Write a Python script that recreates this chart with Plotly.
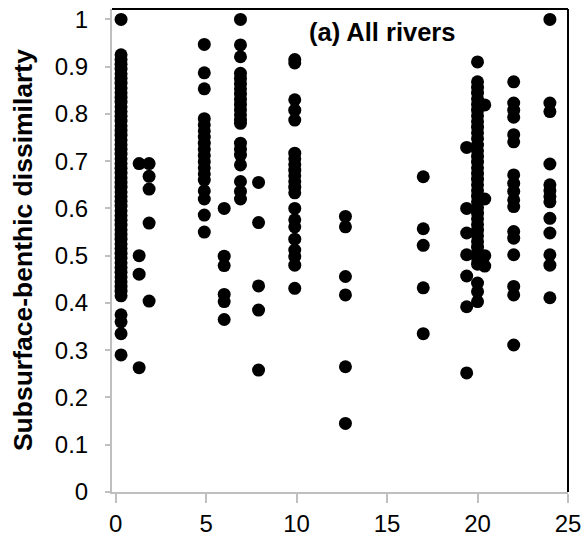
import plotly.graph_objects as go

# Distance position of each sampled river group (x axis)
group_x = [0.3, 1.3, 1.85, 4.9, 6.0, 6.9, 7.9, 9.9, 12.7, 17.0, 19.4, 20.0, 20.4, 22.0, 24.0]

# Subsurface-benthic dissimilarity values for each group
g_0_3 = [1.0,
         0.925, 0.915, 0.905, 0.895, 0.885, 0.875, 0.865, 0.855, 0.845, 0.835,
         0.825, 0.815, 0.805, 0.795, 0.785, 0.775, 0.765, 0.755, 0.745, 0.735,
         0.725, 0.715, 0.705, 0.695, 0.685, 0.675, 0.665, 0.655, 0.645, 0.635,
         0.625, 0.615, 0.605, 0.595, 0.585, 0.575, 0.565, 0.555, 0.545, 0.535,
         0.525, 0.515, 0.505, 0.495, 0.485, 0.475, 0.465, 0.455, 0.445, 0.435,
         0.425, 0.415,
         0.375, 0.36, 0.335, 0.29]
g_1_3 = [0.695, 0.50, 0.461, 0.263]
g_1_85 = [0.695, 0.668, 0.641, 0.569, 0.404]
g_4_9 = [0.947, 0.887, 0.853, 0.79, 0.777, 0.764, 0.751, 0.738, 0.725, 0.712,
         0.699, 0.686, 0.673, 0.66, 0.637, 0.62, 0.586, 0.55]
g_6_0 = [0.60, 0.499, 0.479, 0.418, 0.403, 0.365]
g_6_9 = [1.0, 0.946, 0.921, 0.886, 0.875, 0.864, 0.853, 0.842, 0.831, 0.82,
         0.809, 0.798, 0.787, 0.78, 0.738, 0.725, 0.713, 0.692, 0.657, 0.636, 0.62]
g_7_9 = [0.655, 0.57, 0.436, 0.385, 0.258]
g_9_9 = [0.915, 0.908, 0.83, 0.808, 0.787, 0.717, 0.705, 0.693, 0.681, 0.669,
         0.657, 0.645, 0.633, 0.60, 0.576, 0.561, 0.535, 0.512, 0.498, 0.48, 0.431]
g_12_7 = [0.583, 0.561, 0.456, 0.417, 0.265, 0.145]
g_17_0 = [0.667, 0.557, 0.522, 0.432, 0.335]
g_19_4 = [0.729, 0.60, 0.548, 0.502, 0.457, 0.392, 0.252]
g_20_0 = [0.91,
          0.868, 0.856, 0.844, 0.832, 0.82, 0.808, 0.796, 0.784, 0.772, 0.76, 0.748,
          0.734, 0.722, 0.71, 0.698, 0.686, 0.674, 0.662, 0.65, 0.638, 0.626,
          0.614, 0.602, 0.59, 0.578, 0.566, 0.554, 0.542, 0.53, 0.518, 0.506,
          0.494, 0.482, 0.442, 0.424, 0.403]
g_20_4 = [0.819, 0.62, 0.50, 0.478]
g_22_0 = [0.868, 0.823, 0.808, 0.793, 0.756, 0.741, 0.671, 0.653, 0.636, 0.618,
          0.604, 0.551, 0.537, 0.502, 0.435, 0.417, 0.311]
g_24_0 = [1.0, 0.823, 0.805, 0.694, 0.65, 0.638, 0.625, 0.614, 0.579, 0.548,
          0.502, 0.48, 0.411]

groups = [g_0_3, g_1_3, g_1_85, g_4_9, g_6_0, g_6_9, g_7_9, g_9_9, g_12_7,
          g_17_0, g_19_4, g_20_0, g_20_4, g_22_0, g_24_0]

x_ticks = [0, 5, 10, 15, 20, 25]
y_ticks = [0, 0.1, 0.2, 0.3, 0.4, 0.5, 0.6, 0.7, 0.8, 0.9, 1]
y_tick_text = ["0", "0.1", "0.2", "0.3", "0.4", "0.5", "0.6", "0.7", "0.8", "0.9", "1"]

xs, ys = [], []
for gx, vals in zip(group_x, groups):
    xs.extend([gx] * len(vals))
    ys.extend(vals)

FONT = "Liberation Sans, Arial, sans-serif"
AXIS_GREY = "#bfbfbf"
TICK_SIZE = 24
LABEL_SIZE = 25.5

fig = go.Figure()
fig.add_trace(go.Scatter(
    x=xs, y=ys, mode="markers",
    marker=dict(color="black", size=13, line=dict(width=0)),
    showlegend=False, cliponaxis=False,
))

fig.update_layout(
    width=584, height=539,
    margin=dict(l=112, r=16, t=9, b=47),
    paper_bgcolor="white", plot_bgcolor="white",
    font=dict(family=FONT, size=TICK_SIZE, color="black"),
    xaxis=dict(
        range=[-0.2, 25], tickvals=x_ticks, ticktext=[str(v) for v in x_ticks],
        showgrid=False, zeroline=False, automargin=False,
        showline=True, linecolor=AXIS_GREY, linewidth=2,
        ticks="outside", ticklen=9, tickwidth=2, tickcolor=AXIS_GREY,
        tickfont=dict(family=FONT, size=TICK_SIZE, color="black"),
        ticklabelstandoff=0,
    ),
    yaxis=dict(
        range=[0, 1.022], tickvals=y_ticks, ticktext=y_tick_text,
        showgrid=False, zeroline=False, automargin=False,
        showline=True, linecolor=AXIS_GREY, linewidth=2,
        ticks="outside", ticklen=5, tickwidth=2, tickcolor=AXIS_GREY,
        tickfont=dict(family=FONT, size=TICK_SIZE, color="black"),
        ticklabelstandoff=12,
    ),
)

# Top and right frame edges in black
fig.add_shape(type="line", xref="paper", yref="paper", x0=0, x1=1, y0=1, y1=1,
              line=dict(color="black", width=2))
fig.add_shape(type="line", xref="paper", yref="paper", x0=1, x1=1, y0=0, y1=1,
              line=dict(color="black", width=2))

fig.add_annotation(
    text="<b>(a) All rivers</b>", xref="paper", yref="paper",
    x=0.593, y=0.952, showarrow=False, xanchor="center", yanchor="middle",
    font=dict(family=FONT, size=LABEL_SIZE, color="black"),
)
fig.add_annotation(
    text="<b>Subsurface-benthic dissimilarty</b>", xref="paper", yref="paper",
    x=-0.196, y=0.5, textangle=-90, showarrow=False,
    xanchor="center", yanchor="middle",
    font=dict(family=FONT, size=26.5, color="black"),
)

fig.write_html("out.html")
